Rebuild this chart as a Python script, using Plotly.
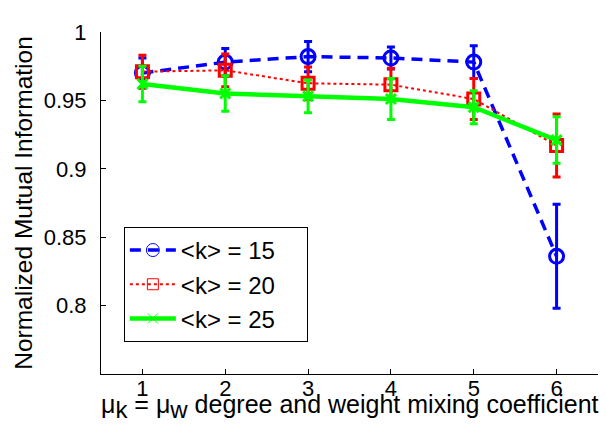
import plotly.graph_objects as go

mu = [1, 2, 3, 4, 5, 6]
nmi_k15 = [0.970, 0.978, 0.982, 0.981, 0.978, 0.836]
err_k15 = [0.011, 0.010, 0.011, 0.008, 0.012, 0.038]
nmi_k20 = [0.971, 0.972, 0.9625, 0.9615, 0.951, 0.917]
err_k20 = [0.012, 0.012, 0.012, 0.012, 0.015, 0.023]
nmi_k25 = [0.962, 0.955, 0.953, 0.951, 0.945, 0.921]
err_k25 = [0.013, 0.013, 0.012, 0.015, 0.012, 0.017]
names = ["&lt;k&gt; = 15&nbsp;&nbsp;&nbsp;&nbsp;", "&lt;k&gt; = 20&nbsp;&nbsp;&nbsp;&nbsp;", "&lt;k&gt; = 25&nbsp;&nbsp;&nbsp;&nbsp;"]
ytick_vals = [0.8, 0.85, 0.9, 0.95, 1.0]
ytick_text = ["0.8", "0.85", "0.9", "0.95", "1"]
x_title = ("μ<sub><span style='font-size:24px'>k</span></sub> = "
           "μ<sub><span style='font-size:24px'>w</span></sub> degree and weight mixing coefficient")
y_title = "Normalized Mutual Information"

FONT = "Liberation Sans, Arial, Helvetica, sans-serif"
BLUE, RED, GREEN = "#0000ff", "#ff0000", "#00ff00"

fig = go.Figure()
styles = [
    (nmi_k15, err_k15, BLUE, dict(dash="11px,7px", width=3.5), dict(symbol="circle-open", size=14, line=dict(width=3, color=BLUE)), dict(symbol="circle-open", size=13, line=dict(width=1, color=BLUE))),
    (nmi_k20, err_k20, RED, dict(dash="dot", width=2), dict(symbol="square-open", size=12, line=dict(width=3, color=RED)), dict(symbol="square-open", size=11, line=dict(width=1, color=RED))),
    (nmi_k25, err_k25, GREEN, dict(width=4.5), dict(symbol="x-thin-open", size=10, line=dict(width=3, color=GREEN)), dict(symbol="x-thin-open", size=10, line=dict(width=1, color=GREEN))),
]
for (y, e, c, ln, mk, lmk), nm in zip(styles, names):
    fig.add_trace(go.Scatter(
        x=mu, y=y, mode="lines+markers", showlegend=False,
        line=dict(color=c, **ln), marker=dict(color=c, **mk),
        error_y=dict(type="data", array=e, visible=True, color=c, thickness=3, width=4),
    ))
for (y, e, c, ln, mk, lmk), nm in zip(styles, names):
    fig.add_trace(go.Scatter(
        x=[None], y=[None], mode="lines+markers", name=nm,
        line=dict(color=c, **ln), marker=dict(color=c, **lmk),
    ))

fig.update_layout(
    width=607, height=424,
    margin=dict(l=93, r=17, t=17, b=58),
    paper_bgcolor="white", plot_bgcolor="white",
    font=dict(family=FONT, size=22, color="black"),
    showlegend=True,
    legend=dict(
        x=0.046, y=0.43, xanchor="left", yanchor="top",
        bordercolor="black", borderwidth=1, bgcolor="white",
        font=dict(size=24), itemwidth=46, tracegroupgap=0,
    ),
    xaxis=dict(
        range=[0.5, 6.5], tickvals=mu, ticks="inside", ticklen=5, tickcolor="black",
        showline=True, linecolor="black", linewidth=1, showgrid=False, zeroline=False,
        tickfont=dict(size=22), ticklabelstandoff=-5,
    ),
    yaxis=dict(
        range=[0.75, 1.0], tickvals=ytick_vals, ticktext=ytick_text, ticks="inside",
        ticklen=5, tickcolor="black", ticklabelstandoff=9,
        showline=True, linecolor="black", linewidth=1, showgrid=False, zeroline=False,
        tickfont=dict(size=22),
        title=dict(text=y_title, font=dict(size=24.5), standoff=4),
    ),
    annotations=[dict(
        text=x_title, xref="paper", yref="paper", x=0.5, y=-0.042,
        xanchor="center", yanchor="top", showarrow=False, font=dict(size=25),
    )],
)
fig.write_html("out.html")
